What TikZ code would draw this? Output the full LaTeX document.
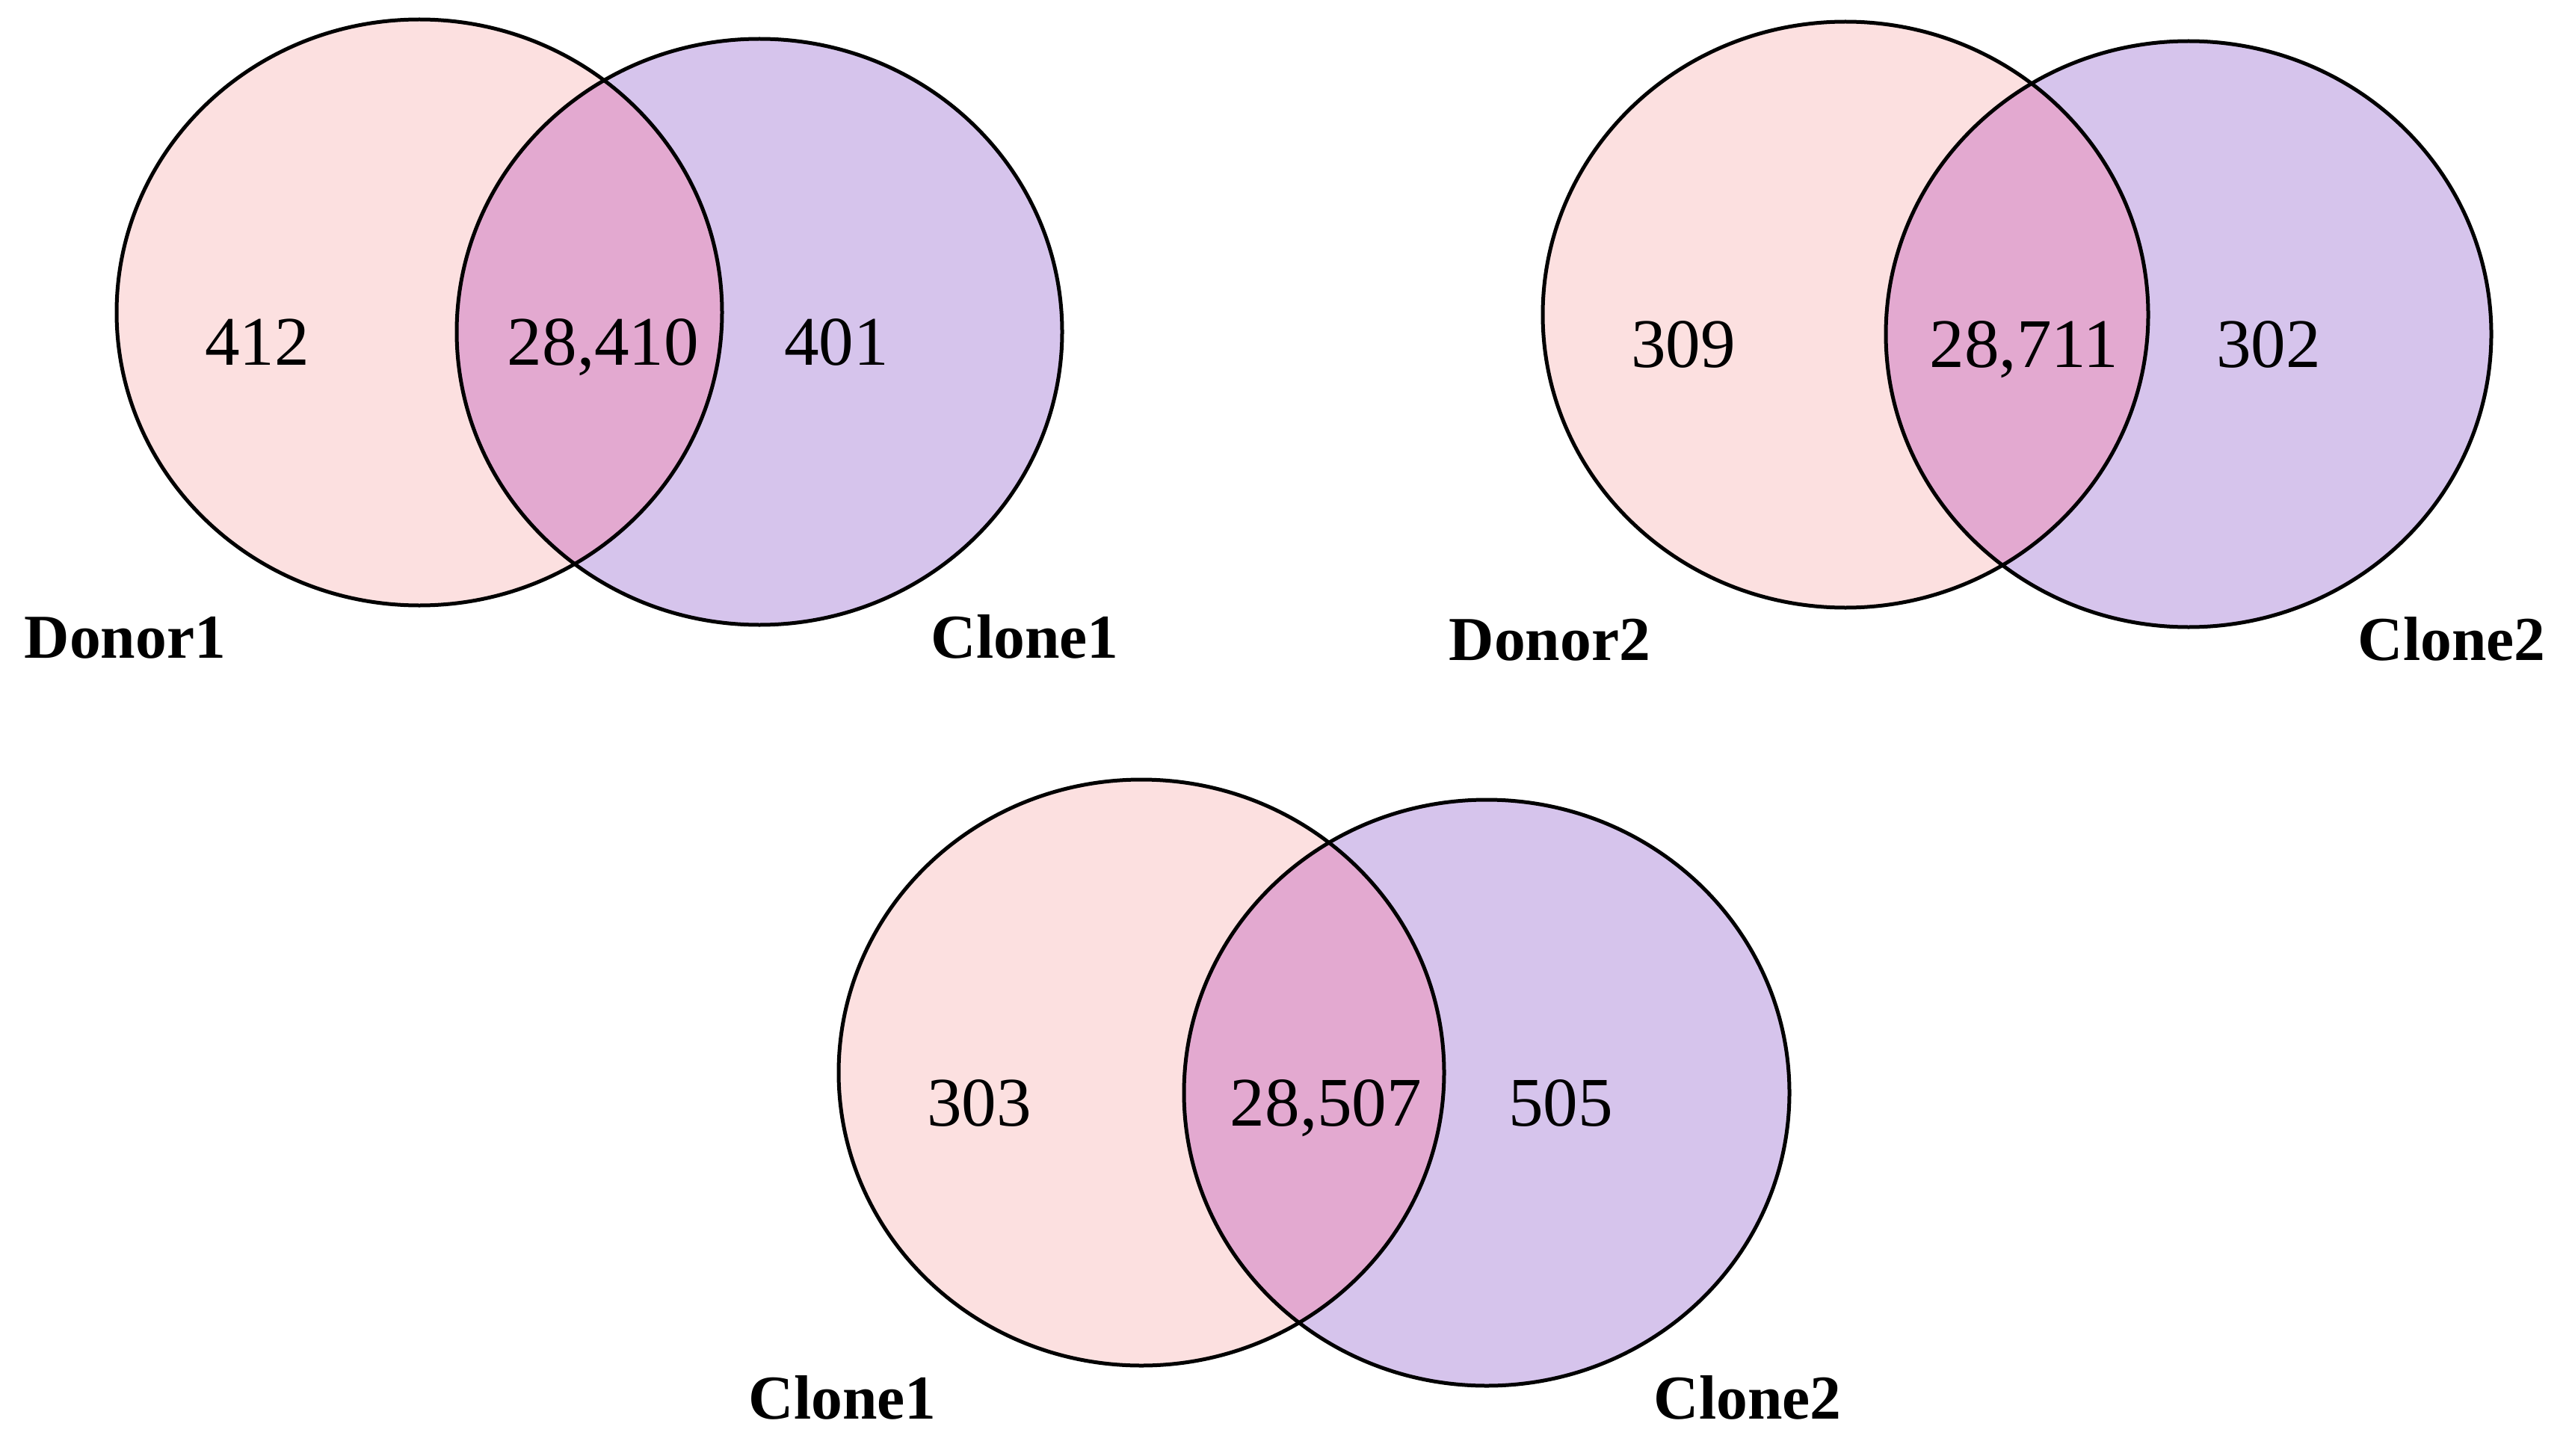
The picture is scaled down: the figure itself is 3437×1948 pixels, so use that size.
\documentclass[tikz,border=0pt]{standalone}
\usepackage{fontspec}
\setmainfont{Liberation Serif}
\definecolor{setA}{RGB}{252,224,224}
\definecolor{setB}{RGB}{214,196,236}
\definecolor{setAB}{RGB}{227,169,208}
\tikzset{
  num/.style={font=\fontsize{23.3}{24}\selectfont, inner sep=0pt, anchor=base},
  lab/.style={font=\fontsize{20.9}{21}\selectfont\bfseries, inner sep=0pt, anchor=base west},
  outline/.style={draw=black, line width=1.25pt},
  rad/.style={x radius=101.25pt, y radius=98pt}
}
\newcommand\vennpair[4]{%
  \fill[setA] (#1,#2) ellipse [rad];
  \fill[setB] (#3,#4) ellipse [rad];
  \begin{scope}
    \clip (#1,#2) ellipse [rad];
    \fill[setAB] (#3,#4) ellipse [rad];
  \end{scope}
  \draw[outline] (#1,#2) ellipse [rad];
  \draw[outline] (#3,#4) ellipse [rad];
}
\begin{document}
\begin{tikzpicture}[x=0.25pt,y=-0.25pt]
\useasboundingbox (0,0) rectangle (3437,1948);
\fill[white] (0,0) rectangle (3437,1948);
% Venn 1
\vennpair{561}{418}{1016}{444}
\node[num] (a1) at (344,488) {412};
\node[num] (ab1) at (807,488) {28,410};
\node[num] (b1) at (1119,488) {401};
\node[lab] (la1) at (32,880) {Donor1};
\node[lab] (lb1) at (1245,880) {Clone1};
% Venn 2
\vennpair{2469}{421}{2928}{447}
\node[num] (a2) at (2252,491) {309};
\node[num] (ab2) at (2708,491) {28,711};
\node[num] (b2) at (3035,491) {302};
\node[lab] (la2) at (1938,883) {Donor2};
\node[lab] (lb2) at (3154,883) {Clone2};
% Venn 3
\vennpair{1527}{1435}{1989}{1462}
\node[num] (a3) at (1310,1506) {303};
\node[num] (ab3) at (1774,1506) {28,507};
\node[num] (b3) at (2088,1506) {505};
\node[lab] (la3) at (1001,1898) {Clone1};
\node[lab] (lb3) at (2212,1898) {Clone2};
\end{tikzpicture}
\end{document}
